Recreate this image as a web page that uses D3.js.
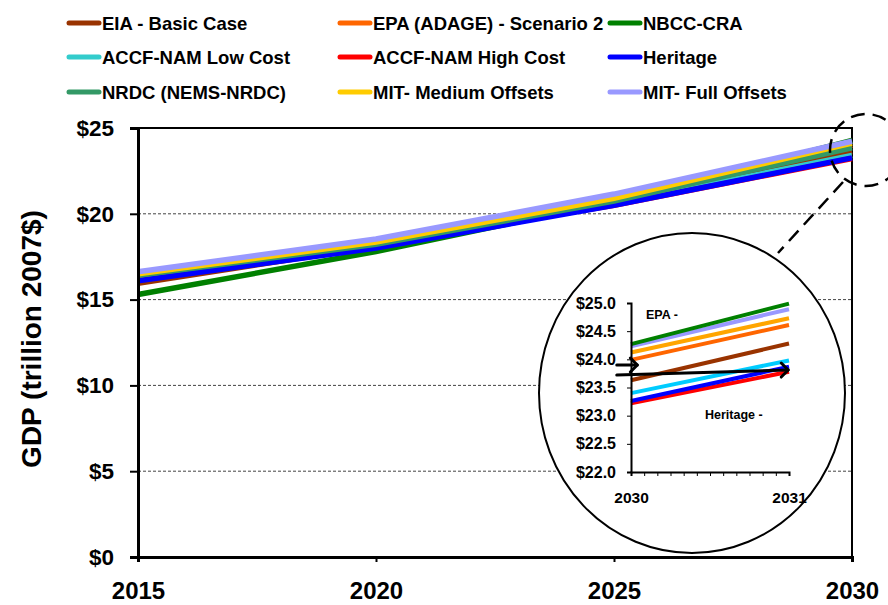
<!DOCTYPE html>
<html>
<head>
<meta charset="utf-8">
<script src="https://cdn.jsdelivr.net/npm/d3@7"></script>
<style>
  body { margin: 0; background: #fff; }
  svg { display: block; font-family: "Liberation Sans", Arial, sans-serif; font-weight: bold; }
</style>
</head>
<body>
<svg id="chart"></svg>
<script>
// years on the main chart
const years = [2015, 2020, 2025, 2030];

// GDP, trillion 2007$
const eiaBasic    = [15.95, 18.10, 20.60, 23.63];
const epaAdage    = [16.30, 18.30, 20.85, 23.99];
const nbccCra     = [15.30, 17.80, 20.70, 24.27];
const accfLow     = [null,  18.20, 20.60, 23.40];
const accfHigh    = [null,  18.24, 20.50, 23.22];
const heritage    = [16.10, 18.00, 20.50, 23.26];
const nrdc        = [16.42, 18.22, 20.75, 23.85];
const mitMedium   = [16.50, 18.35, 20.90, 24.12];
const mitFull     = [16.62, 18.53, 21.15, 24.23];

// zoomed inset, 2030 -> 2031
const insetYears = [2030, 2031];
const insetEia      = [23.63, 24.28];
const insetEpa      = [23.99, 24.61];
const insetNbcc     = [24.27, 24.99];
const insetAccfLow  = [23.40, 23.98];
const insetAccfHigh = [23.22, 23.78];
const insetHeritage = [23.26, 23.87];
const insetMitMed   = [24.12, 24.73];
const insetMitFull  = [24.23, 24.89];

const names = ["EIA - Basic Case", "EPA (ADAGE) - Scenario 2", "NBCC-CRA",
  "ACCF-NAM Low Cost", "ACCF-NAM High Cost", "Heritage",
  "NRDC (NEMS-NRDC)", "MIT- Medium Offsets", "MIT- Full Offsets"];
const colors = ["#993300", "#FF6600", "#008000", "#33CCCC", "#FF0000", "#0000FF",
  "#339966", "#FFCC00", "#9999FF"];
const yTicks = [0, 5, 10, 15, 20, 25];
const insetYTicks = [22, 22.5, 23, 23.5, 24, 24.5, 25];

const mainSeries = [eiaBasic, epaAdage, nbccCra, accfLow, accfHigh, heritage, nrdc, mitMedium, mitFull]
  .map((v, i) => ({name: names[i], color: colors[i], values: v}));

// inset: draw order from bottom to top, NRDC not shown
const insetSeries = [
  {color: "#FF0000", values: insetAccfHigh},
  {color: "#0000FF", values: insetHeritage},
  {color: "#00CCFF", values: insetAccfLow},
  {color: "#993300", values: insetEia},
  {color: "#FF6600", values: insetEpa},
  {color: "#FFA500", values: insetMitMed},
  {color: "#9999FF", values: insetMitFull},
  {color: "#008000", values: insetNbcc}
];

const width = 888, height = 605;
const svg = d3.select("#chart")
  .attr("width", width)
  .attr("height", height)
  .attr("viewBox", [0, 0, width, height]);

const x = d3.scaleLinear([2015, 2030], [138, 852]);
const y = d3.scaleLinear([0, 25], [557, 128]);

// dashed gridlines
svg.append("g")
  .selectAll("line")
  .data(yTicks.filter(d => d > 0 && d < 25))
  .join("line")
  .attr("x1", x(2015)).attr("x2", x(2030))
  .attr("y1", d => y(d)).attr("y2", d => y(d))
  .attr("stroke", "#444")
  .attr("stroke-width", 1)
  .attr("stroke-dasharray", "3,2");

// top & right frame
svg.append("path")
  .attr("d", `M${x(2015)},${y(25)}H${x(2030)}V${y(0)}`)
  .attr("fill", "none")
  .attr("stroke", "#000")
  .attr("stroke-width", 2);

// series lines
const line = d3.line()
  .defined(d => d[1] != null)
  .x(d => x(d[0]))
  .y(d => y(d[1]));

svg.append("g")
  .attr("fill", "none")
  .attr("stroke-width", 5.5)
  .selectAll("path")
  .data(mainSeries)
  .join("path")
  .attr("stroke", d => d.color)
  .attr("d", d => line(d.values.map((v, i) => [years[i], v])));

// axes
const yAxis = svg.append("g")
  .attr("transform", `translate(${x(2015)},0)`)
  .call(d3.axisLeft(y).tickValues(yTicks).tickFormat(d => "$" + d).tickSize(8).tickPadding(16));
yAxis.select(".domain").attr("stroke-width", 3);
yAxis.selectAll(".tick line").attr("stroke-width", 2);
yAxis.selectAll("text").attr("font-size", 22.5).attr("fill", "#000")
  .attr("font-family", "Liberation Sans, Arial, sans-serif").attr("font-weight", "bold");

const xAxis = svg.append("g")
  .attr("transform", `translate(0,${y(0)})`)
  .call(d3.axisBottom(x).tickValues(years).tickFormat(d3.format("d")).tickSize(5).tickPadding(20));
xAxis.select(".domain").attr("stroke-width", 3);
xAxis.selectAll(".tick line").attr("stroke-width", 2);
xAxis.selectAll("text").attr("font-size", 24).attr("fill", "#000")
  .attr("font-family", "Liberation Sans, Arial, sans-serif").attr("font-weight", "bold");

// y title
svg.append("text")
  .attr("transform", "translate(41,339) rotate(-90)")
  .attr("text-anchor", "middle")
  .attr("font-size", 28)
  .text("GDP (trillion 2007$)");

// legend
const legend = svg.append("g")
  .selectAll("g")
  .data(mainSeries)
  .join("g")
  .attr("transform", (d, i) => `translate(${[67, 338, 608][i % 3]},${[23, 57, 92][Math.floor(i / 3)]})`);
legend.append("line")
  .attr("x1", 2).attr("x2", 32)
  .attr("stroke", d => d.color)
  .attr("stroke-width", 5)
  .attr("stroke-linecap", "round");
legend.append("text")
  .attr("x", 35)
  .attr("y", 7)
  .attr("font-size", 18.5)
  .text(d => d.name);

// zoom callout
svg.append("circle")
  .attr("cx", 866).attr("cy", 150).attr("r", 36)
  .attr("fill", "none").attr("stroke", "#000")
  .attr("stroke-width", 2.5).attr("stroke-dasharray", "14,8");
svg.append("line")
  .attr("x1", 843).attr("y1", 182).attr("x2", 778).attr("y2", 253)
  .attr("stroke", "#000").attr("stroke-width", 2.5).attr("stroke-dasharray", "14,8");
svg.append("ellipse")
  .attr("cx", 692).attr("cy", 393).attr("rx", 153).attr("ry", 160)
  .attr("fill", "#fff").attr("stroke", "#000").attr("stroke-width", 2);

// inset chart
const xi = d3.scaleLinear([2030, 2031], [631, 789]);
const yi = d3.scaleLinear([22, 25], [472, 303]);

const lineI = d3.line()
  .x(d => xi(d[0]))
  .y(d => yi(d[1]));

const inset = svg.append("g");
inset.append("g")
  .attr("fill", "none")
  .attr("stroke-width", 4)
  .selectAll("path")
  .data(insetSeries)
  .join("path")
  .attr("stroke", d => d.color)
  .attr("d", d => lineI(d.values.map((v, i) => [insetYears[i], v])));

const yiAxis = inset.append("g")
  .attr("transform", `translate(${xi(2030)},0)`)
  .call(d3.axisLeft(yi).tickValues(insetYTicks).tickFormat(d => "$" + d3.format(".1f")(d)).tickSize(4).tickPadding(11));
yiAxis.select(".domain").attr("stroke-width", 2);
yiAxis.selectAll("text").attr("font-size", 16).attr("fill", "#000")
  .attr("font-family", "Liberation Sans, Arial, sans-serif").attr("font-weight", "bold");

const monthTicks = d3.range(13).map(i => 2030 + i / 12);
const xiAxis = inset.append("g")
  .attr("transform", `translate(0,${yi(22)})`)
  .call(d3.axisBottom(xi).tickValues(monthTicks)
    .tickFormat((d, i) => (i === 0 || i === 12) ? d3.format("d")(Math.round(d)) : "")
    .tickSize(4).tickPadding(16));
xiAxis.select(".domain").attr("stroke-width", 2);
xiAxis.selectAll("text").attr("font-size", 15.5).attr("fill", "#000")
  .attr("font-family", "Liberation Sans, Arial, sans-serif").attr("font-weight", "bold");

inset.append("text").attr("x", 646).attr("y", 319).attr("font-size", 12.5).text("EPA -");
inset.append("text").attr("x", 705).attr("y", 419).attr("font-size", 12.5).text("Heritage -");

// arrows
const arrows = [
  {from: [2029.91, 23.90], to: [2030.04, 23.90]},
  {from: [2029.91, 23.72], to: [2030.995, 23.81]}
];
const arrowG = inset.append("g")
  .attr("fill", "none").attr("stroke", "#000")
  .attr("stroke-width", 3).attr("stroke-linecap", "round").attr("stroke-linejoin", "round");
arrows.forEach(a => {
  const x0 = xi(a.from[0]), y0 = yi(a.from[1]);
  const x1 = xi(a.to[0]), y1 = yi(a.to[1]);
  arrowG.append("path").attr("d", `M${x0},${y0}L${x1},${y1}`);
  arrowG.append("path").attr("d", `M${x1 - 7},${y1 - 7}L${x1},${y1}L${x1 - 7},${y1 + 7}`);
});
</script>
</body>
</html>
